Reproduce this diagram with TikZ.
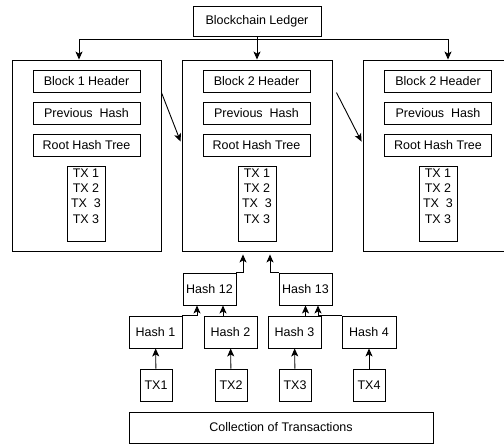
\documentclass[tikz,border=0pt]{standalone}
\usepackage{fontspec}
\setmainfont{Liberation Sans}
\usetikzlibrary{arrows.meta}
\begin{document}
\begin{tikzpicture}[x=1pt,y=-1pt,
  box/.style={draw=black, line width=0.9pt, inner sep=0pt, font=\fontsize{12.5}{15.3}\selectfont},
  arr/.style={draw=black, line width=0.9pt, -{Stealth[length=8pt,width=7pt,inset=2pt]}},
  hdr/.style={box, minimum width=107pt, minimum height=22pt},
  blk/.style={box, minimum width=150pt, minimum height=191pt},
  txlist/.style={box, minimum width=38pt, minimum height=75pt},
  txtext/.style={inner sep=0pt, align=center, anchor=north, font=\fontsize{12.5}{15.3}\selectfont},
  hsh/.style={box, minimum width=53pt, minimum height=32pt},
  txb/.style={box, minimum width=32pt, minimum height=32pt}
]
\useasboundingbox (0,0) rectangle (504,444);
\clip (0,0) rectangle (504,444);

\node[box, minimum width=128pt, minimum height=30pt] (ledger) at (257,21) {Blockchain Ledger};

\node[blk, minimum width=149pt] (blk1) at (86.5,155.5) {};
\node[blk] (blk2) at (257,155.5) {};
\node[blk] (blk3) at (438,155.5) {};

\node[hdr] (h1a) at (86.5,81) {Block 1 Header};
\node[hdr] (h1b) at (86.5,113) {Previous\ \ Hash};
\node[hdr] (h1c) at (86.5,145) {Root Hash Tree};
\node[txlist] (tl1) at (86,203.5) {};
\node[txtext] (tt1) at (86,168.5) {TX 1\\TX 2\\TX\ \ 3\\TX 3};

\node[hdr] (h2a) at (256.5,81) {Block 2 Header};
\node[hdr] (h2b) at (256.5,113) {Previous\ \ Hash};
\node[hdr] (h2c) at (256.5,145) {Root Hash Tree};
\node[txlist] (tl2) at (257,203.5) {};
\node[txtext] (tt2) at (257,168.5) {TX 1\\TX 2\\TX\ \ 3\\TX 3};

\node[hdr] (h3a) at (438,81) {Block 2 Header};
\node[hdr] (h3b) at (438,113) {Previous\ \ Hash};
\node[hdr] (h3c) at (438,145) {Root Hash Tree};
\node[txlist] (tl3) at (438,203.5) {};
\node[txtext] (tt3) at (438,168.5) {TX 1\\TX 2\\TX\ \ 3\\TX 3};

\node[hsh] (h12) at (209.5,289) {Hash 12};
\node[hsh] (h13) at (305.5,289) {Hash 13};
\node[hsh] (hs1) at (155.5,332) {Hash 1};
\node[hsh] (hs2) at (230.5,332) {Hash 2};
\node[hsh] (hs3) at (294.5,332) {Hash 3};
\node[hsh, minimum width=54pt] (hs4) at (369,332) {Hash 4};

\node[txb] (tx1) at (156,385) {TX1};
\node[txb] (tx2) at (231,385) {TX2};
\node[txb] (tx3) at (295,385) {TX3};
\node[txb] (tx4) at (369,385) {TX4};

\node[box, minimum width=304pt, minimum height=31pt] (coll) at (281,427.5) {Collection of Transactions};

% ledger connectors
\draw[arr] (ledger.south) -- (blk2.north);
\draw[arr] (ledger.south) -- ++(0,3) -| ([xshift=-7.5pt]blk1.north);
\draw[arr] (ledger.south) -- ++(0,3) -| ([xshift=10pt]blk3.north);

% chain arrows
\draw[arr] ([yshift=-33pt]blk1.north east) -- ([xshift=-1pt,yshift=-82pt]blk2.north west);
\draw[arr] ([xshift=4pt,yshift=-33pt]blk2.north east) -- ([xshift=-1pt,yshift=-82pt]blk3.north west);

% merkle tree
\draw[arr] (h12.north east) -| ([xshift=-14pt,yshift=-3pt]blk2.south);
\draw[arr] (h13.north west) -| ([xshift=13pt,yshift=-3pt]blk2.south);
\draw[arr] (hs1.north east) -| ([xshift=-12.5pt]h12.south);
\draw[arr] ([xshift=-7.5pt]hs2.north) -- ([xshift=13.5pt]h12.south);
\draw[arr] (h13.south |- hs3.north) -- (h13.south);
\draw[arr] (hs4.north west) -| ([xshift=12.5pt]h13.south);

\draw[arr] (tx1) -- (hs1);
\draw[arr] (tx2) -- (hs2);
\draw[arr] (tx3) -- (hs3);
\draw[arr] (tx4) -- (hs4);
\end{tikzpicture}
\end{document}
